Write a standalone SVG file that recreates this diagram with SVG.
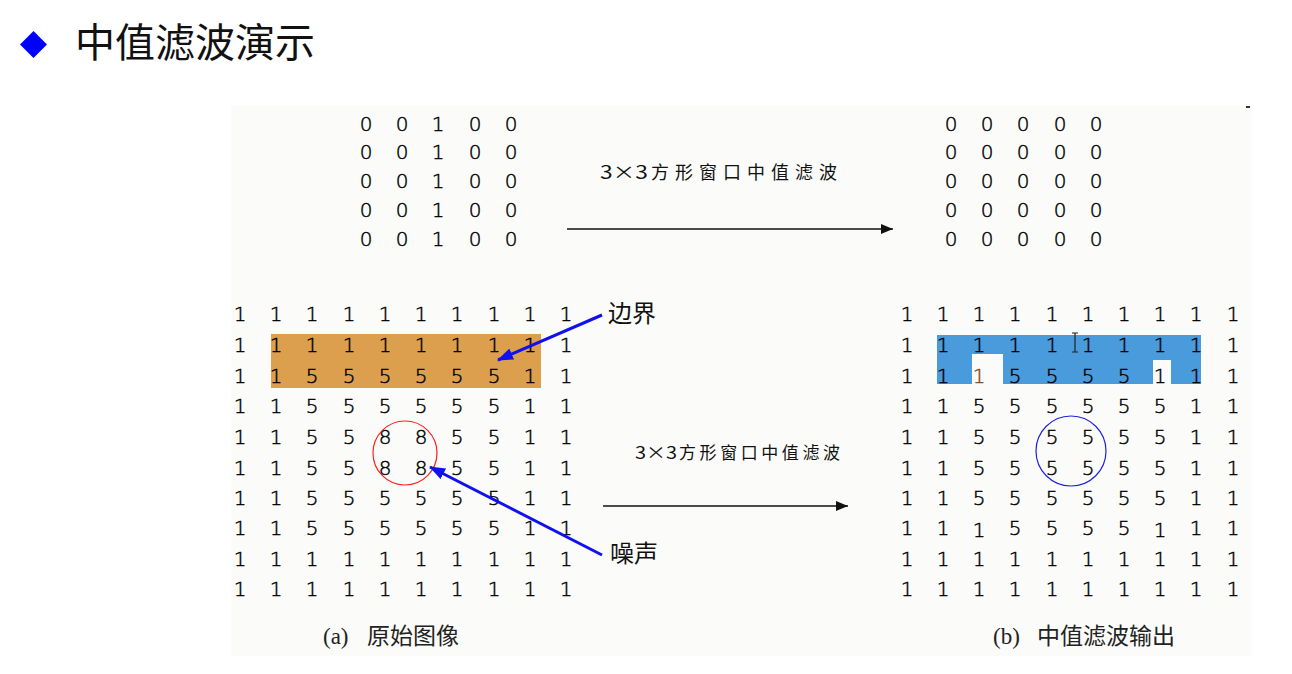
<svg xmlns="http://www.w3.org/2000/svg" width="1292" height="674" viewBox="0 0 1292 674">
<defs>
<style>
.d{font-family:"DejaVu Sans","Liberation Sans",sans-serif;font-size:20px;font-weight:200;fill:#000;stroke:#000;stroke-width:0.45;text-anchor:middle}
.cjk{font-family:"Noto Sans CJK SC","Liberation Sans",sans-serif;fill:#111}
.cap{font-family:"Liberation Serif","Noto Sans CJK SC",serif;font-size:23px;fill:#222}
.line{stroke:#111;stroke-width:1.5;fill:none}
.blue{stroke:#1010f0;stroke-width:3;fill:none}
</style>
<marker id="ah" markerWidth="12" markerHeight="10" refX="12" refY="5" orient="auto" markerUnits="userSpaceOnUse"><path d="M0,0 L12,5 L0,10 Z" fill="#111"/></marker>
<marker id="bh" markerWidth="16" markerHeight="12" refX="15" refY="6" orient="auto" markerUnits="userSpaceOnUse"><path d="M0,0 L16,6 L0,12 Z" fill="#1010f0"/></marker>
</defs>
<rect width="1292" height="674" fill="#fff"/>
<rect x="231" y="106" width="1020" height="550" fill="#fbfcf9"/>
<rect x="1246" y="106" width="4" height="2" fill="#333"/>
<g id="title">
<path d="M33.5,31 L47,44.5 L33.5,58 L20,44.5 Z" fill="#0000ff"/>
<text x="75" y="57" class="cjk" font-size="40">中值滤波演示</text>
</g>
<g id="top-left-matrix">
<text class="d" y="131"><tspan x="366">0</tspan><tspan x="402">0</tspan><tspan x="438">1</tspan><tspan x="475">0</tspan><tspan x="511">0</tspan></text>
<text class="d" y="159"><tspan x="366">0</tspan><tspan x="402">0</tspan><tspan x="438">1</tspan><tspan x="475">0</tspan><tspan x="511">0</tspan></text>
<text class="d" y="188"><tspan x="366">0</tspan><tspan x="402">0</tspan><tspan x="438">1</tspan><tspan x="475">0</tspan><tspan x="511">0</tspan></text>
<text class="d" y="217"><tspan x="366">0</tspan><tspan x="402">0</tspan><tspan x="438">1</tspan><tspan x="475">0</tspan><tspan x="511">0</tspan></text>
<text class="d" y="246"><tspan x="366">0</tspan><tspan x="402">0</tspan><tspan x="438">1</tspan><tspan x="475">0</tspan><tspan x="511">0</tspan></text>
</g>
<g id="top-right-matrix">
<text class="d" y="131"><tspan x="951">0</tspan><tspan x="987">0</tspan><tspan x="1023">0</tspan><tspan x="1060">0</tspan><tspan x="1096">0</tspan></text>
<text class="d" y="159"><tspan x="951">0</tspan><tspan x="987">0</tspan><tspan x="1023">0</tspan><tspan x="1060">0</tspan><tspan x="1096">0</tspan></text>
<text class="d" y="188"><tspan x="951">0</tspan><tspan x="987">0</tspan><tspan x="1023">0</tspan><tspan x="1060">0</tspan><tspan x="1096">0</tspan></text>
<text class="d" y="217"><tspan x="951">0</tspan><tspan x="987">0</tspan><tspan x="1023">0</tspan><tspan x="1060">0</tspan><tspan x="1096">0</tspan></text>
<text class="d" y="246"><tspan x="951">0</tspan><tspan x="987">0</tspan><tspan x="1023">0</tspan><tspan x="1060">0</tspan><tspan x="1096">0</tspan></text>
</g>
<g id="top-label">
<text class="cjk" y="179" font-size="18"><tspan x="600" textLength="48" lengthAdjust="spacingAndGlyphs">3×3</tspan><tspan x="651" textLength="186" lengthAdjust="spacing">方形窗口中值滤波</tspan></text>
</g>
<g id="bottom-label">
<text class="cjk" y="459" font-size="17"><tspan x="635" textLength="42" lengthAdjust="spacingAndGlyphs">3×3</tspan><tspan x="679" textLength="161" lengthAdjust="spacing">方形窗口中值滤波</tspan></text>
</g>
<g id="left-grid">
<rect x="271" y="334" width="270" height="54" fill="#dc9f4e"/>
<text class="d" y="321"><tspan x="240">1</tspan><tspan x="276">1</tspan><tspan x="312">1</tspan><tspan x="349">1</tspan><tspan x="385">1</tspan><tspan x="421">1</tspan><tspan x="457">1</tspan><tspan x="494">1</tspan><tspan x="530">1</tspan><tspan x="566">1</tspan></text>
<text class="d" y="352"><tspan x="240">1</tspan><tspan x="276">1</tspan><tspan x="312">1</tspan><tspan x="349">1</tspan><tspan x="385">1</tspan><tspan x="421">1</tspan><tspan x="457">1</tspan><tspan x="494">1</tspan><tspan x="530">1</tspan><tspan x="566">1</tspan></text>
<text class="d" y="383"><tspan x="240">1</tspan><tspan x="276">1</tspan><tspan x="312">5</tspan><tspan x="349">5</tspan><tspan x="385">5</tspan><tspan x="421">5</tspan><tspan x="457">5</tspan><tspan x="494">5</tspan><tspan x="530">1</tspan><tspan x="566">1</tspan></text>
<text class="d" y="413"><tspan x="240">1</tspan><tspan x="276">1</tspan><tspan x="312">5</tspan><tspan x="349">5</tspan><tspan x="385">5</tspan><tspan x="421">5</tspan><tspan x="457">5</tspan><tspan x="494">5</tspan><tspan x="530">1</tspan><tspan x="566">1</tspan></text>
<text class="d" y="444"><tspan x="240">1</tspan><tspan x="276">1</tspan><tspan x="312">5</tspan><tspan x="349">5</tspan><tspan x="385">8</tspan><tspan x="421">8</tspan><tspan x="457">5</tspan><tspan x="494">5</tspan><tspan x="530">1</tspan><tspan x="566">1</tspan></text>
<text class="d" y="475"><tspan x="240">1</tspan><tspan x="276">1</tspan><tspan x="312">5</tspan><tspan x="349">5</tspan><tspan x="385">8</tspan><tspan x="421">8</tspan><tspan x="457">5</tspan><tspan x="494">5</tspan><tspan x="530">1</tspan><tspan x="566">1</tspan></text>
<text class="d" y="505"><tspan x="240">1</tspan><tspan x="276">1</tspan><tspan x="312">5</tspan><tspan x="349">5</tspan><tspan x="385">5</tspan><tspan x="421">5</tspan><tspan x="457">5</tspan><tspan x="494">5</tspan><tspan x="530">1</tspan><tspan x="566">1</tspan></text>
<text class="d" y="535"><tspan x="240">1</tspan><tspan x="276">1</tspan><tspan x="312">5</tspan><tspan x="349">5</tspan><tspan x="385">5</tspan><tspan x="421">5</tspan><tspan x="457">5</tspan><tspan x="494">5</tspan><tspan x="530">1</tspan><tspan x="566">1</tspan></text>
<text class="d" y="566"><tspan x="240">1</tspan><tspan x="276">1</tspan><tspan x="312">1</tspan><tspan x="349">1</tspan><tspan x="385">1</tspan><tspan x="421">1</tspan><tspan x="457">1</tspan><tspan x="494">1</tspan><tspan x="530">1</tspan><tspan x="566">1</tspan></text>
<text class="d" y="596"><tspan x="240">1</tspan><tspan x="276">1</tspan><tspan x="312">1</tspan><tspan x="349">1</tspan><tspan x="385">1</tspan><tspan x="421">1</tspan><tspan x="457">1</tspan><tspan x="494">1</tspan><tspan x="530">1</tspan><tspan x="566">1</tspan></text>
<circle cx="405" cy="453" r="32" fill="none" stroke="#ff2020" stroke-width="1.2"/>
</g>
<g id="right-grid">
<path d="M937,335 H1201 V384 H1171 V360 H1153 V384 H1003 V354 H972 V384 H937 Z" fill="#4a9bdc"/>
<text class="d" y="321"><tspan x="907">1</tspan><tspan x="943">1</tspan><tspan x="979">1</tspan><tspan x="1015">1</tspan><tspan x="1052">1</tspan><tspan x="1088">1</tspan><tspan x="1124">1</tspan><tspan x="1160">1</tspan><tspan x="1196">1</tspan><tspan x="1233">1</tspan></text>
<text class="d" y="352"><tspan x="907">1</tspan><tspan x="943">1</tspan><tspan x="979">1</tspan><tspan x="1015">1</tspan><tspan x="1052">1</tspan><tspan x="1088">1</tspan><tspan x="1124">1</tspan><tspan x="1160">1</tspan><tspan x="1196">1</tspan><tspan x="1233">1</tspan></text>
<text class="d" y="383"><tspan x="907">1</tspan><tspan x="943">1</tspan><tspan x="979" fill="#8a4a10" stroke="#8a4a10">1</tspan><tspan x="1015">5</tspan><tspan x="1052">5</tspan><tspan x="1088">5</tspan><tspan x="1124">5</tspan><tspan x="1160">1</tspan><tspan x="1196">1</tspan><tspan x="1233">1</tspan></text>
<text class="d" y="413"><tspan x="907">1</tspan><tspan x="943">1</tspan><tspan x="979">5</tspan><tspan x="1015">5</tspan><tspan x="1052">5</tspan><tspan x="1088">5</tspan><tspan x="1124">5</tspan><tspan x="1160">5</tspan><tspan x="1196">1</tspan><tspan x="1233">1</tspan></text>
<text class="d" y="444"><tspan x="907">1</tspan><tspan x="943">1</tspan><tspan x="979">5</tspan><tspan x="1015">5</tspan><tspan x="1052">5</tspan><tspan x="1088">5</tspan><tspan x="1124">5</tspan><tspan x="1160">5</tspan><tspan x="1196">1</tspan><tspan x="1233">1</tspan></text>
<text class="d" y="475"><tspan x="907">1</tspan><tspan x="943">1</tspan><tspan x="979">5</tspan><tspan x="1015">5</tspan><tspan x="1052">5</tspan><tspan x="1088">5</tspan><tspan x="1124">5</tspan><tspan x="1160">5</tspan><tspan x="1196">1</tspan><tspan x="1233">1</tspan></text>
<text class="d" y="505"><tspan x="907">1</tspan><tspan x="943">1</tspan><tspan x="979">5</tspan><tspan x="1015">5</tspan><tspan x="1052">5</tspan><tspan x="1088">5</tspan><tspan x="1124">5</tspan><tspan x="1160">5</tspan><tspan x="1196">1</tspan><tspan x="1233">1</tspan></text>
<text class="d" y="535"><tspan x="907">1</tspan><tspan x="943">1</tspan><tspan x="979" dy="2">1</tspan><tspan x="1015" dy="-2">5</tspan><tspan x="1052">5</tspan><tspan x="1088">5</tspan><tspan x="1124">5</tspan><tspan x="1160" dy="2">1</tspan><tspan x="1196" dy="-2">1</tspan><tspan x="1233">1</tspan></text>
<text class="d" y="566"><tspan x="907">1</tspan><tspan x="943">1</tspan><tspan x="979">1</tspan><tspan x="1015">1</tspan><tspan x="1052">1</tspan><tspan x="1088">1</tspan><tspan x="1124">1</tspan><tspan x="1160">1</tspan><tspan x="1196">1</tspan><tspan x="1233">1</tspan></text>
<text class="d" y="596"><tspan x="907">1</tspan><tspan x="943">1</tspan><tspan x="979">1</tspan><tspan x="1015">1</tspan><tspan x="1052">1</tspan><tspan x="1088">1</tspan><tspan x="1124">1</tspan><tspan x="1160">1</tspan><tspan x="1196">1</tspan><tspan x="1233">1</tspan></text>
<circle cx="1071" cy="451" r="35" fill="none" stroke="#2020e0" stroke-width="1.2"/>
<path d="M1072,333 H1078 M1075,333 V352 M1072,352 H1078" stroke="#222" stroke-width="1.2" fill="none"/>
</g>
<g id="label-bianjie">
<text class="cjk" x="608" y="322" font-size="24">边界</text>
</g>
<g id="label-zaosheng">
<text class="cjk" x="610" y="562" font-size="24">噪声</text>
</g>
<g id="caption-a">
<text class="cap" x="323" y="644">(a)<tspan x="367" font-family="Noto Sans CJK SC, sans-serif">原始图像</tspan></text>
</g>
<g id="caption-b">
<text class="cap" x="993" y="644">(b)<tspan x="1037" font-family="Noto Sans CJK SC, sans-serif">中值滤波输出</tspan></text>
</g>
<g id="connectors">
<line x1="567" y1="229" x2="893" y2="229" class="line" marker-end="url(#ah)"/>
<line x1="603" y1="506" x2="848" y2="506" class="line" marker-end="url(#ah)"/>
<line x1="602" y1="315" x2="498" y2="360" class="blue" marker-end="url(#bh)"/>
<line x1="602" y1="555" x2="430" y2="467" class="blue" marker-end="url(#bh)"/>
</g>
</svg>
